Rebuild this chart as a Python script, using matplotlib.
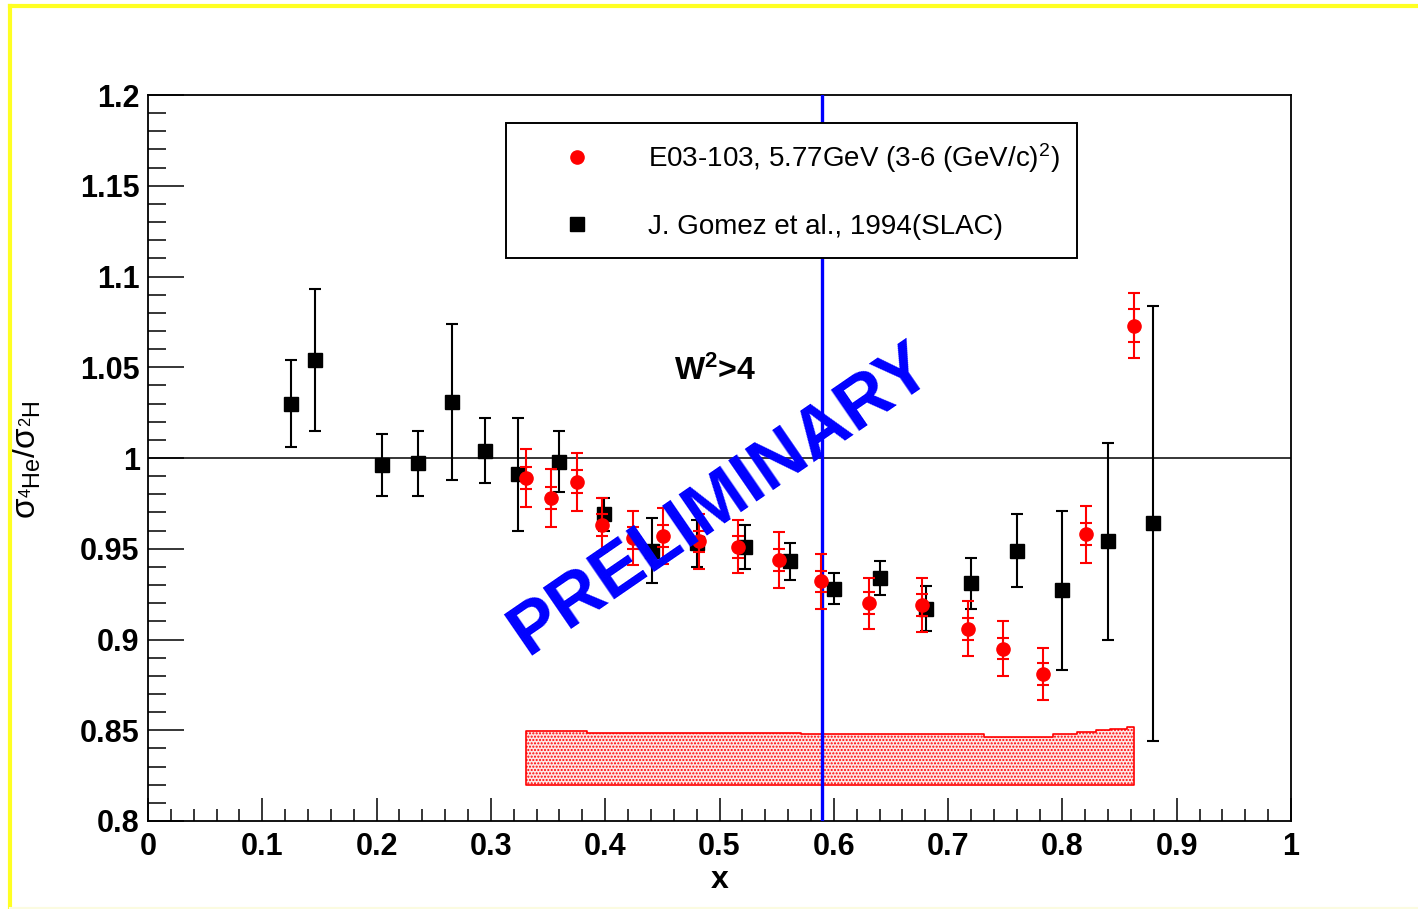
import matplotlib
matplotlib.use("Agg")
import matplotlib.pyplot as plt
from matplotlib.lines import Line2D
import numpy as np

plt.rcParams['font.family'] = ['Liberation Sans', 'DejaVu Sans']
plt.rcParams['mathtext.fontset'] = 'custom'
plt.rcParams['mathtext.rm'] = 'Liberation Sans'
plt.rcParams['mathtext.it'] = 'Liberation Sans:italic'
plt.rcParams['mathtext.bf'] = 'Liberation Sans:bold'
plt.rcParams['mathtext.default'] = 'regular'
plt.rcParams['hatch.linewidth'] = 1.0

# ---- data: J. Gomez et al., 1994 (SLAC) ----
x_slac = [0.125, 0.146, 0.205, 0.236, 0.266, 0.295, 0.324, 0.360, 0.399, 0.441, 0.480,
          0.522, 0.562, 0.600, 0.640, 0.681, 0.720, 0.760, 0.800, 0.840, 0.879]
y_slac = [1.030, 1.054, 0.996, 0.997, 1.031, 1.004, 0.991, 0.998, 0.969, 0.949, 0.953,
          0.951, 0.943, 0.928, 0.934, 0.917, 0.931, 0.949, 0.927, 0.954, 0.964]
e_slac = [0.024, 0.039, 0.017, 0.018, 0.043, 0.018, 0.031, 0.017, 0.009, 0.018, 0.013,
          0.012, 0.010, 0.0085, 0.0095, 0.0125, 0.014, 0.020, 0.044, 0.054, 0.120]

# ---- data: E03-103, 5.77 GeV ----
x_e03 = [0.331, 0.353, 0.375, 0.397, 0.424, 0.451, 0.482, 0.516, 0.552, 0.589,
         0.631, 0.677, 0.717, 0.748, 0.783, 0.821, 0.863]
y_e03 = [0.989, 0.978, 0.987, 0.963, 0.956, 0.957, 0.954, 0.951, 0.944, 0.932,
         0.920, 0.919, 0.906, 0.895, 0.881, 0.958, 1.073]
e_tot = [0.016, 0.016, 0.016, 0.015, 0.015, 0.0155, 0.015, 0.0146, 0.0155, 0.015,
         0.014, 0.015, 0.015, 0.015, 0.0145, 0.0157, 0.018]
e_stat = [0.006, 0.006, 0.0065, 0.006, 0.006, 0.006, 0.006, 0.006, 0.006, 0.006,
          0.006, 0.006, 0.006, 0.006, 0.006, 0.006, 0.009]

# ---- systematic band ----
band_edges = [0.331, 0.3845, 0.571, 0.731, 0.792, 0.8124, 0.829, 0.842, 0.8565, 0.863]
band_top = [0.8495, 0.8485, 0.8477, 0.8464, 0.8477, 0.8488, 0.8500, 0.8508, 0.8516]
band_base = 0.82

w2_cut = 0.59

x_ticks = [0, 0.1, 0.2, 0.3, 0.4, 0.5, 0.6, 0.7, 0.8, 0.9, 1.0]
x_ticklabels = ['0', '0.1', '0.2', '0.3', '0.4', '0.5', '0.6', '0.7', '0.8', '0.9', '1']
y_ticks = [0.8, 0.85, 0.9, 0.95, 1.0, 1.05, 1.1, 1.15, 1.2]
y_ticklabels = ['0.8', '0.85', '0.9', '0.95', '1', '1.05', '1.1', '1.15', '1.2']

W, H = 1418, 909
fig = plt.figure(figsize=(W / 100, H / 100), dpi=100)
fig.patch.set_facecolor('white')
ax = fig.add_axes([148 / W, 1 - 821 / H, (1291 - 148) / W, (821 - 95) / H])

ax.set_xlim(0, 1)
ax.set_ylim(0.8, 1.2)

# band
tops = band_top + [band_top[-1]]
ax.fill_between(band_edges, band_base, tops, step='post', facecolor='#fde6e6',
                edgecolor='red', hatch='.....', linewidth=1.2, zorder=2)

# reference lines
ax.axhline(1.0, color='black', lw=1.1, zorder=1)
ax.axvline(w2_cut, color='blue', lw=2.4, zorder=3)

# SLAC
ax.errorbar(x_slac, y_slac, yerr=e_slac, fmt='s', color='black', ms=10.5,
            elinewidth=1.5, capsize=4.5, capthick=1.5, zorder=4)
# E03-103
ax.errorbar(x_e03, y_e03, yerr=e_tot, fmt='o', color='red', ms=9.5,
            elinewidth=1.5, capsize=4.5, capthick=1.5, zorder=5)
ax.errorbar(x_e03, y_e03, yerr=e_stat, fmt='none', ecolor='red',
            elinewidth=1.5, capsize=4.5, capthick=1.5, zorder=5)

# texts
ax.text(0.46, 1.048, r'W$^{2}$>4', fontsize=23, fontweight='bold', ha='left', va='center')
ax.text(0.501, 0.977, 'PRELIMINARY', color='blue', fontsize=52, fontweight='bold',
        rotation=34.5, rotation_mode='anchor', ha='center', va='center', zorder=6)

# ticks
ax.set_xticks(x_ticks)
ax.set_xticklabels(x_ticklabels)
ax.set_yticks(y_ticks)
ax.set_yticklabels(y_ticklabels)
ax.set_xticks(np.arange(0, 1.0001, 0.02), minor=True)
ax.set_yticks(np.arange(0.8, 1.2001, 0.01), minor=True)
ax.tick_params(axis='x', which='major', direction='in', length=16.5, width=1.1,
               labelsize=22, pad=8, top=False)
ax.tick_params(axis='x', which='minor', direction='in', length=8.5, width=1.1, top=False)
ax.tick_params(axis='y', which='major', direction='in', length=26, width=1.1,
               labelsize=22, pad=6, right=False)
ax.tick_params(axis='y', which='minor', direction='in', length=13, width=1.1, right=False)
for lab in ax.get_xticklabels() + ax.get_yticklabels():
    lab.set_fontweight('bold')
for sp in ax.spines.values():
    sp.set_linewidth(1.3)

ax.set_xlabel('x', fontsize=23, fontweight='bold', labelpad=2)
ax.set_ylabel(r'σ$_{^{4}He}$/σ$_{^{2}H}$', fontsize=24)
ax.yaxis.set_label_coords(-105 / (1291 - 148), (821 - 460) / (821 - 95))

# legend
handles = [Line2D([], [], ls='none', marker='o', color='red', ms=9.5),
           Line2D([], [], ls='none', marker='s', color='black', ms=10.5)]
labels = [r'E03-103, 5.77GeV (3-6 (GeV/c)$^{2}$)', 'J. Gomez et al., 1994(SLAC)']
leg = ax.legend(handles, labels, loc='upper left',
                bbox_to_anchor=((506 - 148) / (1291 - 148), (821 - 123) / (821 - 95)),
                borderaxespad=0, fontsize=20, frameon=True, fancybox=False,
                borderpad=0.65, labelspacing=1.4, handlelength=3.8, handletextpad=0.65,
                edgecolor='black', framealpha=1)
leg.get_frame().set_linewidth(1.4)

# yellow frame
fig.add_artist(Line2D([10 / W, 10 / W], [0, 1 - 6 / H], color='#ffff22', lw=3,
                      transform=fig.transFigure))
fig.add_artist(Line2D([10 / W, 1], [1 - 6 / H, 1 - 6 / H], color='#ffff22', lw=3,
                      transform=fig.transFigure))
fig.add_artist(Line2D([10 / W, 1], [1 / H, 1 / H], color='#fbfbe0', lw=1.5,
                      transform=fig.transFigure))

fig.savefig('out.png', dpi=100)
